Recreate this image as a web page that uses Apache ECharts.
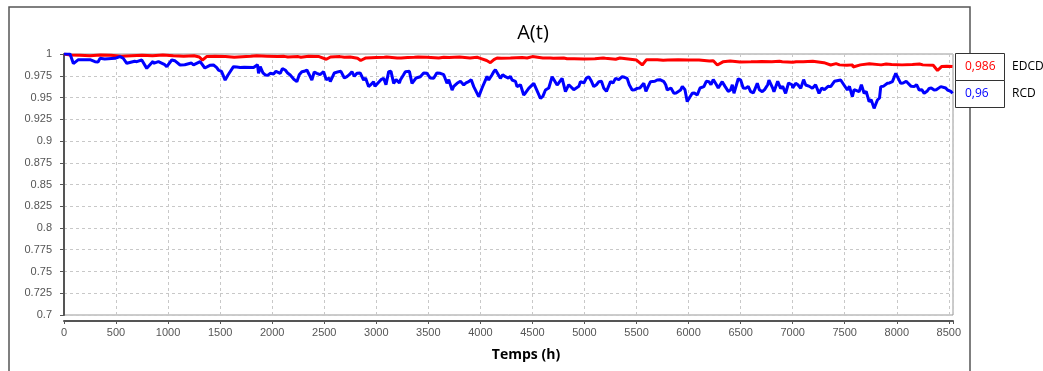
<!DOCTYPE html>
<html>
<head>
<meta charset="utf-8">
<script src="https://cdn.jsdelivr.net/npm/echarts@6/dist/echarts.min.js"></script>
<style>
html,body{margin:0;padding:0;background:#fff;}
#chart{width:1043px;height:371px;}
</style>
</head>
<body>
<div id="chart"></div>
<script>
const titleText = 'A(t)';
const xAxisName = 'Temps (h)';
const seriesNames = ['EDCD', 'RCD'];
const endLabels = ['0,986', '0,96'];
const xTicks = [0, 500, 1000, 1500, 2000, 2500, 3000, 3500, 4000, 4500, 5000, 5500, 6000, 6500, 7000, 7500, 8000, 8500];
const yTicks = [0.7, 0.725, 0.75, 0.775, 0.8, 0.825, 0.85, 0.875, 0.9, 0.925, 0.95, 0.975, 1];

// EDCD readings (coarse pass)
const edcdA = [
[0,1.0],[60,0.9989],[150,0.9985],[250,0.998],[350,0.9989],[450,0.9985],[550,0.9975],[650,0.998],[750,0.9985],[850,0.998],[950,0.9989],[1050,0.998],[1150,0.9975],[1250,0.998],[1300,0.9965],[1330,0.993],[1370,0.997],[1450,0.9975],[1550,0.997],[1650,0.9975],[1750,0.997],[1850,0.998],[1950,0.9975],[2050,0.997],[2150,0.9965],[2250,0.997],[2350,0.9975],[2450,0.997],[2520,0.994],[2560,0.9965],[2650,0.997],[2750,0.9965],[2820,0.995],[2850,0.9925],[2900,0.9955],[3000,0.996],[3100,0.9965],[3200,0.9955],[3300,0.996],[3400,0.9965],[3500,0.996],[3600,0.9955],[3700,0.996],[3800,0.9965],[3900,0.9955],[4000,0.995],[4060,0.9925],[4096,0.990],[4130,0.9935],[4200,0.995],[4300,0.9955],[4400,0.996],[4500,0.997],[4600,0.9955],[4700,0.995],[4800,0.9955],[4900,0.9945],[5000,0.995],[5100,0.9945],[5200,0.995],[5300,0.994],[5400,0.9945],[5500,0.993],[5555,0.9874],[5600,0.992],[5700,0.9935],[5800,0.993],[5900,0.9935],[6000,0.993],[6100,0.993],[6200,0.992],[6276,0.9874],[6330,0.991],[6400,0.992],[6500,0.9915],[6600,0.991],[6700,0.9915],[6800,0.991],[6900,0.991],[7000,0.9905],[7100,0.991],[7200,0.9905],[7300,0.99],[7365,0.9874],[7450,0.9875],[7520,0.987],[7580,0.985],[7650,0.9875],[7750,0.988],[7850,0.9875],[7950,0.988],[8050,0.9875],[8150,0.988],[8250,0.9875],[8350,0.987],[8391,0.981],[8430,0.9855],[8480,0.986],[8535,0.9855]
];
// EDCD readings (detail pass)
const edcdB = [
[1635,0.9962],[1795,0.9973],[1955,0.9962],[2116,0.9973],[2276,0.9962],[2532,0.9954],[2693,0.9962],[2917,0.9954],[3077,0.9962],[3238,0.9954],[3366,0.9962],
[3487,0.9962],[3648,0.9962],[3808,0.9958],[3968,0.9962],[4160,0.9954],[4289,0.9954],[4449,0.9954],[4609,0.9943],[4673,0.9954],[4833,0.9946],[4994,0.9943],
[5179,0.9954],[5340,0.9954],[5596,0.9935],[5756,0.9927],[5917,0.9923],[6077,0.9931],[6237,0.9923],[6333,0.9916],[6493,0.9908],[6654,0.9912],
[6872,0.9916],[7033,0.9912],[7193,0.9916],[7417,0.9889],[7577,0.9875],[7737,0.9889],[7898,0.9885],[8058,0.9889],[8218,0.9885],[8442,0.9858]
];

// RCD readings (coarse pass)
const rcdA = [
[0,1.0],[58,1.0],[90,0.989],[138,0.9935],[250,0.9935],[298,0.9912],[346,0.995],[490,0.995],[538,0.9969],[603,0.9893],[699,0.9912],[747,0.9931],[795,0.9835],[859,0.9893],[907,0.9912],[987,0.9854],[1035,0.9931],[1115,0.9874],[1179,0.9893],[1244,0.9874],[1308,0.9912],[1372,0.9835],[1436,0.9874],[1484,0.9816],[1532,0.9797],[1548,0.970],[1596,0.9778],[1628,0.9854],[1692,0.9845],[1821,0.9845],[1869,0.9778],[1885,0.9854],[1933,0.9759],[1981,0.9778],[2077,0.9778],[2125,0.9816],[2173,0.9759],[2237,0.9682],[2285,0.9797],[2333,0.9816],[2381,0.9701],[2429,0.9778],[2494,0.9797],[2558,0.9682],[2638,0.9797],[2718,0.9739],[2766,0.9797],[2814,0.9778],[2878,0.9701],[2926,0.9625],[2974,0.9682],[3006,0.9644],[3071,0.972],[3119,0.9797],[3167,0.9663],[3231,0.9701],[3279,0.9797],[3343,0.9663],[3423,0.9739],[3487,0.9778],[3551,0.972],[3615,0.9778],[3679,0.9663],[3728,0.9586],[3776,0.9663],[3840,0.9644],[3888,0.9682],[3936,0.9625],[3984,0.951],[4032,0.9625],[4080,0.9701],[4128,0.9797],[4192,0.972],
[4240,0.9739],[4304,0.9701],[4352,0.9625],[4416,0.9529],[4464,0.9605],[4513,0.9663],[4577,0.949],[4625,0.9586],[4689,0.9739],[4737,0.9644],[4785,0.972],[4817,0.9567],[4865,0.9644],[4913,0.9586],[4961,0.9682],[5041,0.9739],[5089,0.9625],[5138,0.9682],[5186,0.9605],[5250,0.9682],[5298,0.972],[5362,0.9739],[5410,0.972],[5458,0.9586],[5506,0.9605],[5570,0.9663],[5634,0.9682],[5698,0.9701],[5763,0.9682],[5795,0.9586],[5859,0.9548],[5923,0.9586],[5987,0.9452],[6035,0.9548],[6083,0.9529],[6147,0.9625],[6195,0.9682],[6259,0.9663],[6323,0.9682],[6403,0.9586],[6436,0.9548],[6500,0.9701],[6548,0.9605],[6596,0.9567],[6660,0.9663],[6708,0.9567],[6772,0.9701],[6820,0.9567],[6884,0.9605],[6932,0.9548],[6997,0.9644],[7029,0.9663],[7077,0.9605],[7125,0.9644],[7189,0.9605],[7253,0.9548],[7317,0.9586],[7365,0.9625],[7413,0.9682],[7461,0.9701],[7525,0.9586],[7573,0.951],[7638,0.9567],[7686,0.9548],[7734,0.9452],[7782,0.9375],[7814,0.9471],[7846,0.9625],[7910,0.9663],[7958,0.9682],[7990,0.9778],[8038,0.9663],[8103,0.9701],[8167,0.9625],[8215,0.9586],[8263,0.9548],[8311,0.9605],[8359,0.9586],[8423,0.9625],[8487,0.9586],[8535,0.9548]
];
// RCD readings (detail pass)
const rcdB = [
[103,0.9897],[215,0.9935],[327,0.9908],[391,0.9943],[567,0.9954],[615,0.9897],[679,0.9916],[856,0.9916],[968,0.9877],[1064,0.9923],[1160,0.9877],[1224,0.9897],[1353,0.9839],[1401,0.987],[1465,0.9847],[1513,0.9801],[1577,0.9762],
[1659,0.985],[1731,0.9847],[1859,0.9877],[1911,0.9782],[1957,0.9755],[2013,0.977],[2036,0.9801],[2098,0.9831],[2148,0.9782],[2212,0.9705],[2260,0.9762],[2308,0.9801],[2356,0.9762],[2404,0.9793],[2460,0.9762],[2520,0.9705],[2548,0.9724],[2597,0.9782],[2660,0.9801],[2693,0.9724],[2741,0.9762],[2789,0.9743],[2845,0.9782],[2897,0.9724],[2947,0.9647],[2987,0.9628],[3045,0.9705],[3093,0.9647],[3141,0.9801],[3190,0.9705],[3222,0.9667],[3262,0.9762],[3318,0.9801],[3382,0.9724],
[3455,0.9782],[3519,0.9724],[3581,0.9782],[3648,0.9762],[3696,0.9705],[3744,0.9628],[3808,0.9686],[3862,0.9667],[3912,0.9705],[3952,0.9647],[4000,0.9513],[4016,0.9609],[4064,0.9743],[4112,0.9762],[4144,0.982],[4214,0.9762],[4268,0.9724],[4289,0.9743],[4337,0.9686],[4385,0.9647],[4433,0.9552],[4481,0.9609],[4529,0.9647],[4600,0.9513],[4657,0.9609],[4705,0.9724],[4753,0.9667],[4801,0.9705],[4849,0.9647],[4897,0.959],[4946,0.9628],[4994,0.9667],[5019,0.9724],
[5067,0.9686],[5115,0.9647],[5163,0.9686],[5211,0.9571],[5274,0.9667],[5330,0.9705],[5385,0.9732],[5430,0.9647],[5484,0.959],[5532,0.9609],[5590,0.9571],[5612,0.9628],[5676,0.9686],[5724,0.9705],[5780,0.9647],[5830,0.9609],[5880,0.9552],[5940,0.9628],[5965,0.959],[5997,0.9475],[6055,0.9552],[6110,0.9609],[6170,0.9686],[6215,0.9647],[6237,0.9705],[6285,0.9609],[6350,0.9628],[6381,0.9571],[6420,0.9647],[6477,0.9716],[6525,0.9609],[6573,0.9628],[6622,0.9552],[6680,0.959],[6730,0.959],
[6760,0.9647],[6808,0.9609],[6856,0.9686],[6904,0.9628],[6960,0.9667],[7000,0.9609],[7050,0.9647],[7105,0.9705],[7161,0.9628],[7220,0.9647],[7280,0.9609],[7305,0.959],[7340,0.9628],[7401,0.9686],[7480,0.9705],[7545,0.9628],[7590,0.959],[7609,0.9609],[7660,0.9647],[7706,0.9571],[7754,0.9475],[7800,0.9379],[7834,0.9494],[7870,0.9628],[7930,0.9667],[7975,0.9686],[7998,0.9782],[8060,0.9667],[8090,0.9686],[8138,0.9628],[8190,0.9647],[8240,0.959],[8290,0.9571],[8331,0.9609],[8379,0.959],[8440,0.9617],[8470,0.9609],[8520,0.9571]
];

const byX = (a, b) => a[0] - b[0];
const edcd = edcdA.concat(edcdB).sort(byX);
const rcd = rcdA.concat(rcdB).sort(byX);

const colors = ['#ff0000', '#0000ff'];

const chart = echarts.init(document.getElementById('chart'), null, {renderer: 'canvas'});
const labelFont = 'Liberation Sans, Arial, sans-serif';
const option = {
  animation: false,
  backgroundColor: '#fff',
  grid: {left: 64, right: 90, top: 54, bottom: 56, show: true, borderColor: '#999', borderWidth: 1, backgroundColor: 'transparent'},
  xAxis: {
    type: 'value', min: xTicks[0], max: 8540, interval: 500, offset: 6,
    axisLine: {show: true, lineStyle: {color: '#555', width: 2}},
    axisTick: {show: true, length: 3, lineStyle: {color: '#555'}},
    axisLabel: {color: '#555', fontSize: 11, fontFamily: labelFont, margin: 6,
      formatter: v => (xTicks.indexOf(v) >= 0 ? String(v) : '')},
    splitLine: {show: true, lineStyle: {color: '#c8c8c8', type: [3, 3], width: 1}}
  },
  yAxis: {
    type: 'value', min: yTicks[0], max: yTicks[yTicks.length - 1], interval: 0.025, offset: 5,
    axisLine: {show: true, lineStyle: {color: '#555', width: 2}},
    axisTick: {show: true, length: 4, lineStyle: {color: '#555'}},
    axisLabel: {color: '#555', fontSize: 11, fontFamily: labelFont, margin: 7,
      formatter: v => String(+v.toFixed(3))},
    splitLine: {show: true, lineStyle: {color: '#c8c8c8', type: [3, 3], width: 1}}
  },
  series: [
    {name: seriesNames[0], type: 'line', data: edcd, showSymbol: false, lineStyle: {color: colors[0], width: 3}, itemStyle: {color: colors[0]}, z: 3},
    {name: seriesNames[1], type: 'line', data: rcd, showSymbol: false, lineStyle: {color: colors[1], width: 3}, itemStyle: {color: colors[1]}, z: 4}
  ],
  graphic: [
    {type: 'rect', shape: {x: 9, y: 7, width: 961, height: 380}, style: {fill: 'none', stroke: '#555', lineWidth: 1.5}, z: -1},
    {type: 'text', x: 533, y: 33, style: {text: titleText, fill: '#000', font: '20px "Open Sans", sans-serif', textAlign: 'center', textVerticalAlign: 'middle'}},
    {type: 'text', x: 526, y: 355, style: {text: xAxisName, fill: '#000', font: 'bold 14px "Open Sans", sans-serif', textAlign: 'center', textVerticalAlign: 'middle'}},
    {type: 'rect', shape: {x: 955.5, y: 53.5, width: 49, height: 27}, style: {fill: '#fff', stroke: '#333', lineWidth: 1}, z: 10},
    {type: 'rect', shape: {x: 955.5, y: 80.5, width: 49, height: 27}, style: {fill: '#fff', stroke: '#333', lineWidth: 1}, z: 10},
    {type: 'text', x: 965, y: 67, style: {text: endLabels[0], fill: colors[0], font: '12px "Open Sans", sans-serif', textAlign: 'left', textVerticalAlign: 'middle'}, z: 11},
    {type: 'text', x: 965, y: 94, style: {text: endLabels[1], fill: colors[1], font: '12px "Open Sans", sans-serif', textAlign: 'left', textVerticalAlign: 'middle'}, z: 11},
    {type: 'text', x: 1012, y: 67, style: {text: seriesNames[0], fill: '#000', font: '12px "Open Sans", sans-serif', textAlign: 'left', textVerticalAlign: 'middle'}, z: 11},
    {type: 'text', x: 1012, y: 94, style: {text: seriesNames[1], fill: '#000', font: '12px "Open Sans", sans-serif', textAlign: 'left', textVerticalAlign: 'middle'}, z: 11}
  ]
};
chart.setOption(option);
</script>
</body>
</html>
